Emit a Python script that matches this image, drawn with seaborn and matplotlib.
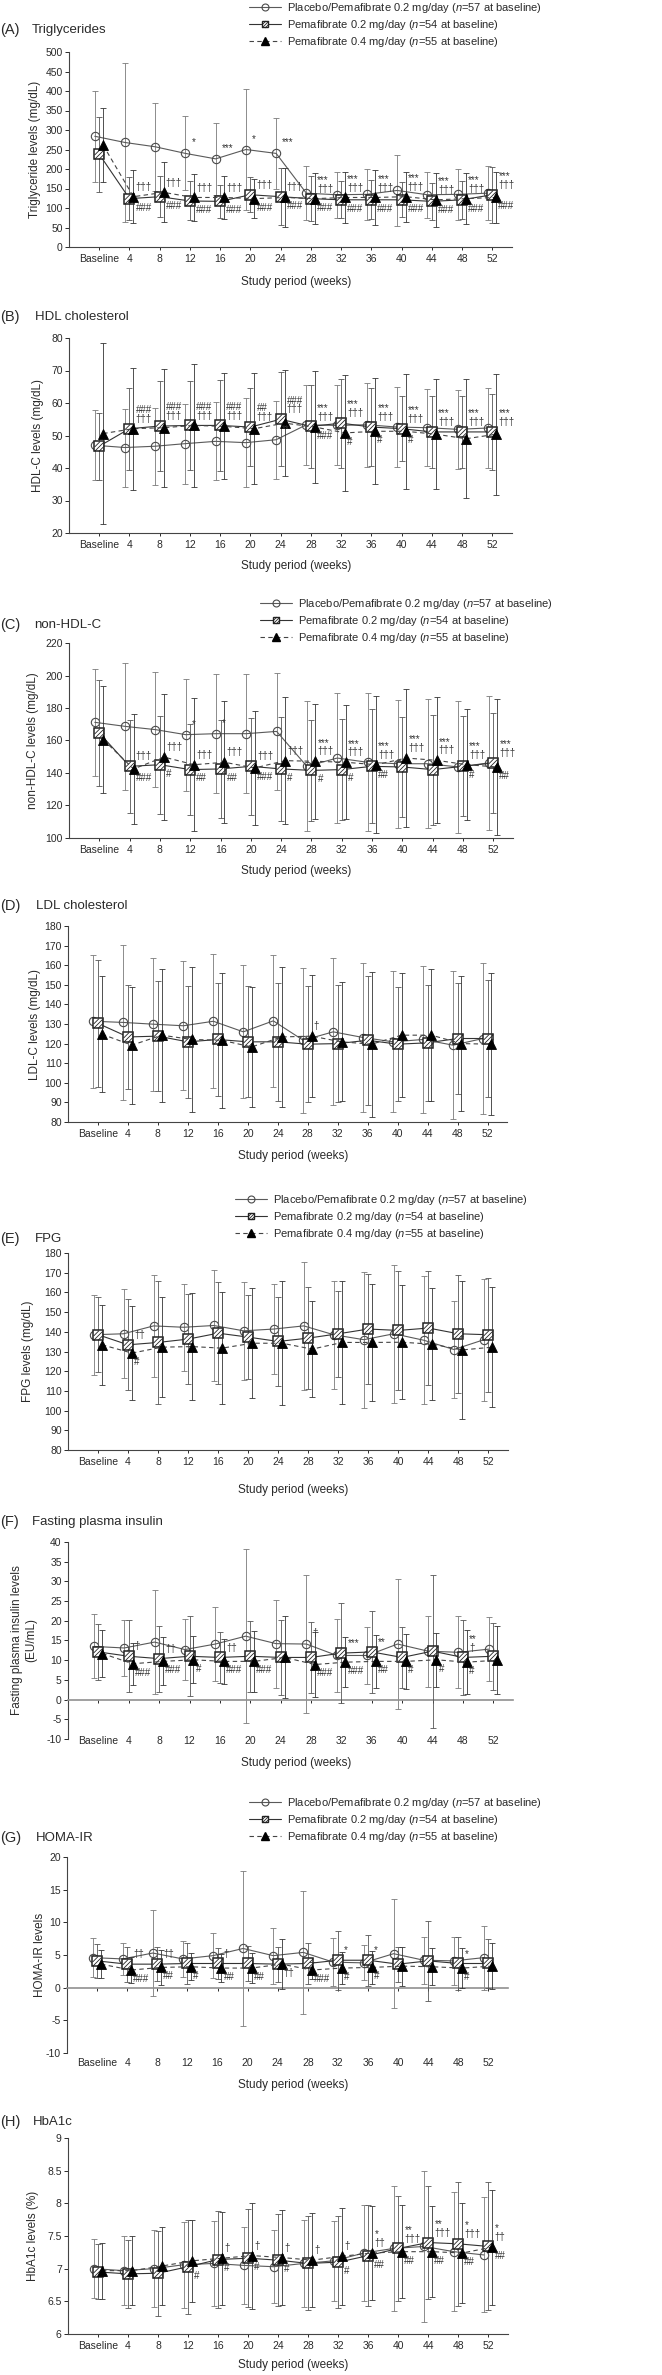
import numpy as np
import matplotlib
matplotlib.use('Agg')
import matplotlib.pyplot as plt
from matplotlib.path import Path
from matplotlib.lines import Line2D
from matplotlib import font_manager
import seaborn as sns

### data ###
weeks = ['Baseline', '4', '8', '12', '16', '20', '24', '28', '32', '36', '40', '44', '48', '52']
group_labels = ['Placebo/Pemafibrate 0.2 mg/day ($n$=57 at baseline)',
                'Pemafibrate 0.2 mg/day ($n$=54 at baseline)',
                'Pemafibrate 0.4 mg/day ($n$=55 at baseline)']

# (A) triglycerides
tg_pla = [284, 268, 257, 240, 226, 250, 240, 138, 134, 135, 145, 134, 135, 138]
tg_pla_sd = [117, 205, 113, 95, 93, 154, 92, 70, 59, 66, 90, 59, 66, 70]
tg_p02 = [238, 124, 129, 118, 117, 134, 129, 124, 121, 121, 121, 117, 121, 134]
tg_p02_sd = [96, 55, 52, 50, 43, 45, 73, 58, 47, 50, 45, 48, 48, 72]
tg_p04 = [261, 129, 140, 127, 127, 124, 127, 124, 127, 127, 129, 121, 124, 127]
tg_p04_sd = [95, 68, 77, 60, 55, 50, 75, 65, 65, 70, 64, 70, 65, 66]
tg_star = ['', '', '', '*', '***', '*', '***', '', '', '', '', '', '', '']
tg_up = ['', '†††', '†††', '†††', '†††', '†††', '†††'] + ['***\n†††'] * 7
tg_low = [''] + ['###'] * 13

# (B) HDL-C
hdl_pla = [47.0, 46.3, 46.7, 47.5, 48.2, 47.8, 48.7, 53.3, 53.1, 53.3, 52.6, 52.4, 51.9, 52.3]
hdl_pla_sd = [10.8, 12, 11.8, 12.3, 12, 13.7, 12, 12.3, 12.3, 13, 12.3, 11.8, 12.2, 12.4]
hdl_p02 = [46.7, 52.1, 52.9, 53.1, 53.1, 52.6, 55.0, 52.8, 53.8, 52.6, 52.1, 51.1, 51.1, 51.1]
hdl_p02_sd = [10.3, 12.6, 13.8, 13.6, 13.9, 12, 14.5, 12.8, 13.7, 12, 10, 11, 11, 11.8]
hdl_p04 = [50.6, 52.1, 52.4, 53.1, 52.8, 52.1, 53.8, 52.6, 50.8, 51.3, 51.3, 50.4, 49.0, 50.4]
hdl_p04_sd = [27.8, 18.8, 18.2, 19, 16.3, 17, 16.3, 17.2, 17.9, 16.3, 17.7, 16.9, 18.3, 18.6]
hdl_star = [''] * 6 + ['**'] + [''] * 7
hdl_up = ['', '###\n†††', '###\n†††', '###\n†††', '###\n†††', '##\n†††', '###\n†††'] + ['***\n†††'] * 7
hdl_low = [''] * 7 + ['###', '#', '#', '#', '', '', '']

# (C) non-HDL-C
nh_pla = [171.2, 168.7, 166.7, 163.6, 164.2, 164.2, 165.6, 144.1, 149.2, 146.6, 145.7, 145.7, 143.7, 146.2]
nh_pla_sd = [33, 39, 35.5, 34.4, 36.7, 36.7, 36, 40, 40, 42.6, 39.4, 39.8, 40.4, 41.4]
nh_p02 = [164.6, 144.1, 145.1, 142.1, 142.5, 144.1, 142.5, 141.6, 142.1, 144.1, 143.7, 142.1, 144.1, 146.2]
nh_p02_sd = [32.8, 28.7, 30.2, 28, 30, 30, 32, 31, 31, 35, 30.6, 33.8, 30.8, 30.7]
nh_p04 = [160.5, 142.5, 149.8, 145.1, 146.6, 143.1, 147.6, 147.2, 146.6, 145.1, 149.2, 147.8, 145.1, 143.7]
nh_p04_sd = [32.8, 33.8, 39, 41, 37.5, 35, 39, 35.3, 35, 42, 42.5, 38.8, 34, 41.8]
nh_star = ['', '', '', '*', '*', '', '', '', '', '', '', '', '', '']
nh_up = ['', '†††', '†††', '†††', '†††', '†††', '†††'] + ['***\n†††'] * 7
nh_low = ['', '###', '#', '##', '##', '###', '#', '#', '#', '##', '', '', '#', '##']

# (D) LDL-C
ldl_pla = [131.4, 130.8, 129.9, 129.1, 131.4, 126.0, 131.6, 121.7, 126.0, 123.1, 120.9, 122.1, 119.2, 122.6]
ldl_pla_sd = [34, 39.5, 34, 33, 34.3, 34, 33.6, 37, 37.5, 38, 36, 37.5, 37.8, 38.3]
ldl_p02 = [130.3, 123.4, 123.8, 120.9, 122.1, 120.9, 120.9, 119.7, 120.0, 121.7, 119.7, 120.4, 122.6, 122.6]
ldl_p02_sd = [32.3, 26.5, 28, 28.4, 28.7, 28.3, 30, 29.6, 29.8, 33, 29, 29.5, 28.4, 29.8]
ldl_p04 = [124.8, 119.2, 124.3, 122.1, 121.7, 118.3, 123.4, 123.8, 120.9, 119.7, 124.3, 124.3, 120.0, 119.7]
ldl_p04_sd = [29.6, 29.8, 34, 36.8, 34.4, 30.4, 35.8, 31.2, 30.3, 37, 31.6, 33.6, 34.6, 36.2]
ldl_star = [''] * 14
ldl_up = [''] * 7 + ['†'] + [''] * 6
ldl_low = [''] * 14

# (E) FPG
fpg_pla = [138.5, 139, 143, 142.3, 143.2, 140.5, 141.4, 143, 138.5, 136, 139, 135.7, 131, 136]
fpg_pla_sd = [20.3, 22.5, 26, 22, 28, 25, 23, 32.6, 27.3, 34.5, 35, 32.4, 24.4, 31]
fpg_p02 = [138.5, 133.4, 134.6, 136.3, 139.3, 137.3, 135.1, 136.8, 139, 141.4, 140.7, 141.9, 139, 138.5]
fpg_p02_sd = [19, 23, 31, 23, 26, 21.5, 22.5, 25.7, 21.8, 28, 30, 29, 30, 29]
fpg_p04 = [133.4, 129.2, 132.2, 132.5, 131.7, 134.2, 134.2, 131.2, 134.6, 134.6, 134.7, 133.7, 130.8, 132.2]
fpg_p04_sd = [20.3, 24, 25.5, 27, 28.5, 28, 31.5, 24.5, 31, 29.7, 29, 28.5, 35, 30.5]
fpg_star = [''] * 12 + ['*', '']
fpg_up = ['', '††'] + [''] * 12
fpg_low = ['', '#'] + [''] * 12

# (F) fasting plasma insulin
ins_pla = [13.5, 13.1, 14.6, 12.7, 14.1, 16.1, 14.2, 14.1, 11.2, 11.2, 14.1, 12.3, 12.0, 12.8]
ins_pla_sd = [8.1, 7.2, 13.1, 7.8, 9.3, 22, 11.2, 17.6, 9.3, 7.2, 16.6, 9, 9.1, 8.1]
ins_p02 = [12.1, 11.0, 10.4, 11.0, 10.7, 11.0, 10.7, 10.7, 11.8, 12.1, 10.7, 12.3, 10.7, 11.0]
ins_p02_sd = [7.1, 9.1, 8.4, 10.1, 6.5, 9, 9.6, 9, 12.7, 10.3, 7.7, 19.4, 9.5, 8.5]
ins_p04 = [11.7, 9.1, 9.7, 10.1, 9.7, 9.7, 10.7, 8.9, 9.5, 9.7, 9.7, 10.1, 9.5, 10.0]
ins_p04_sd = [5.9, 5.3, 6.1, 6, 5.7, 7.8, 10.4, 8.2, 6.4, 6.8, 6.9, 6.8, 8.1, 8.6]
ins_star = [''] * 7 + ['†'] + [''] * 6
ins_up = ['', '†', '††', '', '††', '', '', '', '***', '**', '', '', '**\n†', '']
ins_low = ['', '###', '###', '#', '###', '###', '', '###', '###', '##', '#', '#', '#', '']

# (G) HOMA-IR
homa_pla = [4.6, 4.4, 5.3, 4.4, 4.9, 6.0, 4.9, 5.4, 3.9, 3.8, 5.2, 4.2, 4.1, 4.6]
homa_pla_sd = [3, 2.5, 6.6, 2.7, 3.4, 11.9, 4.3, 9.4, 3.7, 2.7, 8.3, 3.6, 3.7, 4.9]
homa_p02 = [4.1, 3.6, 3.6, 3.7, 3.7, 3.7, 3.6, 3.7, 4.2, 4.2, 3.6, 4.1, 3.7, 3.7]
homa_p02_sd = [2.6, 2.7, 2.6, 3.2, 2.3, 2.7, 2.7, 3.1, 4.5, 3.9, 2.7, 6.1, 4.1, 3.7]
homa_p04 = [3.6, 2.7, 3.1, 3.2, 3.0, 3.0, 3.6, 2.7, 3.0, 3.1, 3.3, 3.2, 3.0, 3.3]
homa_p04_sd = [2.1, 2.0, 2.7, 2.1, 2.1, 2.3, 3.8, 1.3, 2.5, 2.5, 3.0, 2.8, 3.0, 3.5]
homa_star = [''] * 14
homa_up = ['', '††', '††', '', '†', '', '', '', '*', '*', '', '', '*', '']
homa_low = ['', '###', '##', '#', '##', '##', '††', '###', '#', '#', '', '', '#', '']

# (H) HbA1c
a1c_pla = [7.0, 6.97, 7.0, 7.06, 7.08, 7.05, 7.03, 7.08, 7.12, 7.24, 7.31, 7.34, 7.26, 7.21]
a1c_pla_sd = [0.45, 0.53, 0.59, 0.66, 0.65, 0.59, 0.56, 0.67, 0.61, 0.74, 0.96, 1.16, 0.91, 0.88]
a1c_p02 = [6.95, 6.92, 6.93, 7.03, 7.14, 7.16, 7.13, 7.08, 7.10, 7.20, 7.31, 7.40, 7.38, 7.34]
a1c_p02_sd = [0.42, 0.52, 0.65, 0.72, 0.74, 0.75, 0.70, 0.72, 0.70, 0.77, 0.80, 0.87, 0.95, 0.98]
a1c_p04 = [6.97, 6.97, 7.04, 7.12, 7.16, 7.20, 7.17, 7.13, 7.19, 7.24, 7.26, 7.26, 7.24, 7.33]
a1c_p04_sd = [0.43, 0.53, 0.6, 0.63, 0.71, 0.81, 0.73, 0.72, 0.74, 0.72, 0.71, 0.70, 0.77, 0.88]
a1c_star = [''] * 14
a1c_up = [''] * 4 + ['†', '†', '†', '†', '†', '*\n††', '**\n†††', '**\n†††', '*\n†††', '*\n††']
a1c_low = [''] * 3 + ['#', '#', '#', '#', '', '#', '##', '##', '##', '##', '##']

### style ###
sns.set_style('ticks')
names = {f.name for f in font_manager.fontManager.ttflist}
fam = 'Liberation Sans Narrow' if 'Liberation Sans Narrow' in names else 'Liberation Sans'
plt.rcParams['font.family'] = [fam, 'DejaVu Sans']
plt.rcParams['mathtext.fontset'] = 'custom'
plt.rcParams['mathtext.it'] = fam + ':italic'
plt.rcParams['mathtext.rm'] = fam
plt.rcParams['axes.linewidth'] = 0.8

# hatch lines for the square marker
verts, codes = [], []
for c in [-0.9, 0.0, 0.9]:
    x0, x1 = max(-1, -1 - c), min(1, 1 - c)
    verts += [(x0, x0 + c), (x1, x1 + c)]
    codes += [Path.MOVETO, Path.LINETO]
hatch = Path(verts, codes)

W, H = 662, 2375
fig = plt.figure(figsize=(W / 100, H / 100), dpi=100)
xs = np.arange(len(weeks))
off_pla, off_p04 = -0.15, 0.13
ink = '#2a2a2a'


def draw_panel(box, data, notes, yr, ylabel, letter, title, title_y, title_x, xlab_dy, ylab_x,
               zero=False, xpad=2.5, legend_at=None):
    l, t, r, b = box
    ax = fig.add_axes([l / W, 1 - b / H, (r - l) / W, (b - t) / H])
    pla, pla_sd, p02, p02_sd, p04, p04_sd = data
    star, up, low = notes
    ylo, yhi, ystep = yr
    span = yhi - ylo

    ax.errorbar(xs + off_pla, pla, yerr=pla_sd, fmt='none', ecolor='#7a7a7a', elinewidth=0.6,
                capsize=2, capthick=0.6, zorder=2)
    sns.lineplot(x=xs + off_pla, y=pla, ax=ax, errorbar=None, color='#5a5a5a', linewidth=0.8,
                 marker='o', markersize=6, markerfacecolor='none', markeredgecolor='#4a4a4a',
                 markeredgewidth=0.8, zorder=3)
    ax.errorbar(xs, p02, yerr=p02_sd, fmt='none', ecolor='#555555', elinewidth=0.6,
                capsize=2, capthick=0.6, zorder=4)
    sns.lineplot(x=xs, y=p02, ax=ax, errorbar=None, color='#333333', linewidth=0.8,
                 marker='s', markersize=7, markerfacecolor='white', markeredgecolor='#222222',
                 markeredgewidth=1.1, zorder=5)
    ax.plot(xs, p02, linestyle='none', marker=hatch, markersize=7, markerfacecolor='none',
            markeredgecolor='#222222', markeredgewidth=0.6, zorder=6)
    ax.errorbar(xs + off_p04, p04, yerr=p04_sd, fmt='none', ecolor='#333333', elinewidth=0.6,
                capsize=2, capthick=0.6, zorder=7)
    sns.lineplot(x=xs + off_p04, y=p04, ax=ax, errorbar=None, color='#444444', linewidth=0.8,
                 linestyle=(0, (4, 3)), marker='^', markersize=7, markerfacecolor='black',
                 markeredgecolor='black', markeredgewidth=0.6, zorder=8)

    # significance marks
    for i in range(len(weeks)):
        kw = dict(fontsize=7, color='#333333', ha='left', linespacing=0.85, zorder=9)
        if star[i]:
            ax.text(i + 0.05, pla[i] + 0.03 * span, star[i], va='bottom', **kw)
        if up[i]:
            ax.text(i + 0.2, max(p02[i], p04[i]) + 0.025 * span, up[i], va='bottom', **kw)
        if low[i]:
            ax.text(i + 0.2, min(p02[i], p04[i]) - 0.02 * span, low[i], va='top', **kw)

    ax.set_xlim(-1, 13.65)
    ax.set_ylim(ylo, yhi)
    ticks = np.arange(ylo, yhi + ystep / 2, ystep)
    ax.set_yticks(ticks)
    ax.set_yticklabels([f'{v:g}' for v in ticks])
    ax.set_xticks(xs)
    ax.set_xticklabels(weeks)
    ax.set_xlabel('')
    ax.set_ylabel('')
    sns.despine(ax=ax)
    for s in ['left', 'bottom']:
        ax.spines[s].set_color('#444444')
    ax.tick_params(axis='y', length=3, width=0.7, pad=1.5, labelsize=7.5, colors=ink)
    ax.tick_params(axis='x', length=2.5, width=0.7, pad=xpad, labelsize=7.5, colors=ink)
    if zero:
        ax.spines['bottom'].set_position(('data', 0))
        ax.spines['bottom'].set_color('#909090')
        ax.spines['bottom'].set_linewidth(1.2)

    ax.annotate('Study period (weeks)', xy=(6.5, 0), xycoords=('data', 'axes fraction'),
                xytext=(0, -xlab_dy * 0.72), textcoords='offset points',
                ha='center', va='center', fontsize=8.5, color=ink)
    fig.text(ylab_x / W, 1 - (t + b) / 2 / H, ylabel, rotation=90, ha='center', va='center',
             fontsize=8.5, color=ink, linespacing=1.3)
    fig.text(0, 1 - title_y / H, letter, ha='left', va='center', fontsize=10.5, color=ink)
    fig.text(title_x / W, 1 - title_y / H, title, ha='left', va='center', fontsize=9.5, color=ink)

    if legend_at is not None:
        h_pla = Line2D([], [], color='#5a5a5a', lw=0.8, marker='o', ms=5, mfc='none',
                       mec='#4a4a4a', mew=0.8)
        h_sq = Line2D([], [], color='#333333', lw=0.8, marker='s', ms=5, mfc='white',
                      mec='#222222', mew=1.0)
        h_hatch = Line2D([], [], linestyle='none', marker=hatch, ms=5, mfc='none',
                         mec='#222222', mew=0.6)
        h_tri = Line2D([], [], color='#444444', lw=0.8, ls=(0, (4, 3)), marker='^', ms=5.5,
                       mfc='black', mec='black')
        lx, ly = legend_at
        fig.legend([h_pla, (h_sq, h_hatch), h_tri], group_labels, loc='upper left',
                   bbox_to_anchor=(lx / W, 1 - ly / H), frameon=False, fontsize=8,
                   handlelength=2.9, handletextpad=0.5, labelspacing=0.28,
                   borderpad=0, borderaxespad=0, numpoints=1, labelcolor=ink)
    return ax


draw_panel((69, 52, 512, 247), (tg_pla, tg_pla_sd, tg_p02, tg_p02_sd, tg_p04, tg_p04_sd),
           (tg_star, tg_up, tg_low), (0, 500, 50), 'Triglyceride levels (mg/dL)',
           '(A)', 'Triglycerides', 30, 32, 35, 35, legend_at=(249, 1))
draw_panel((69, 338, 512, 533), (hdl_pla, hdl_pla_sd, hdl_p02, hdl_p02_sd, hdl_p04, hdl_p04_sd),
           (hdl_star, hdl_up, hdl_low), (20, 80, 10), 'HDL-C levels (mg/dL)',
           '(B)', 'HDL cholesterol', 317, 35, 33, 38)
draw_panel((69, 643, 513, 838), (nh_pla, nh_pla_sd, nh_p02, nh_p02_sd, nh_p04, nh_p04_sd),
           (nh_star, nh_up, nh_low), (100, 220, 20), 'non-HDL-C levels (mg/dL)',
           '(C)', 'non-HDL-C', 625, 34, 33, 33, legend_at=(260, 597))
draw_panel((68, 926, 507, 1122), (ldl_pla, ldl_pla_sd, ldl_p02, ldl_p02_sd, ldl_p04, ldl_p04_sd),
           (ldl_star, ldl_up, ldl_low), (80, 180, 10), 'LDL-C levels (mg/dL)',
           '(D)', 'LDL cholesterol', 906, 36, 34, 35)
draw_panel((68, 1253, 508, 1450), (fpg_pla, fpg_pla_sd, fpg_p02, fpg_p02_sd, fpg_p04, fpg_p04_sd),
           (fpg_star, fpg_up, fpg_low), (80, 180, 10), 'FPG levels (mg/dL)',
           '(E)', 'FPG', 1239, 35, 40, 28, legend_at=(235, 1193))
draw_panel((68, 1542, 513, 1739), (ins_pla, ins_pla_sd, ins_p02, ins_p02_sd, ins_p04, ins_p04_sd),
           (ins_star, ins_up, ins_low), (-10, 40, 5), 'Fasting plasma insulin levels\n(EU/mL)',
           '(F)', 'Fasting plasma insulin', 1522, 32, 24, 24, zero=True, xpad=24)
draw_panel((67, 1857, 508, 2053), (homa_pla, homa_pla_sd, homa_p02, homa_p02_sd, homa_p04, homa_p04_sd),
           (homa_star, homa_up, homa_low), (-10, 20, 5), 'HOMA-IR levels',
           '(G)', 'HOMA-IR', 1838, 36, 32, 40, zero=True, xpad=48, legend_at=(249, 1796))
draw_panel((68, 2138, 508, 2334), (a1c_pla, a1c_pla_sd, a1c_p02, a1c_p02_sd, a1c_p04, a1c_p04_sd),
           (a1c_star, a1c_up, a1c_low), (6, 9, 0.5), 'HbA1c levels (%)',
           '(H)', 'HbA1c', 2122, 33, 31, 33)

fig.savefig('out.png', dpi=100)
